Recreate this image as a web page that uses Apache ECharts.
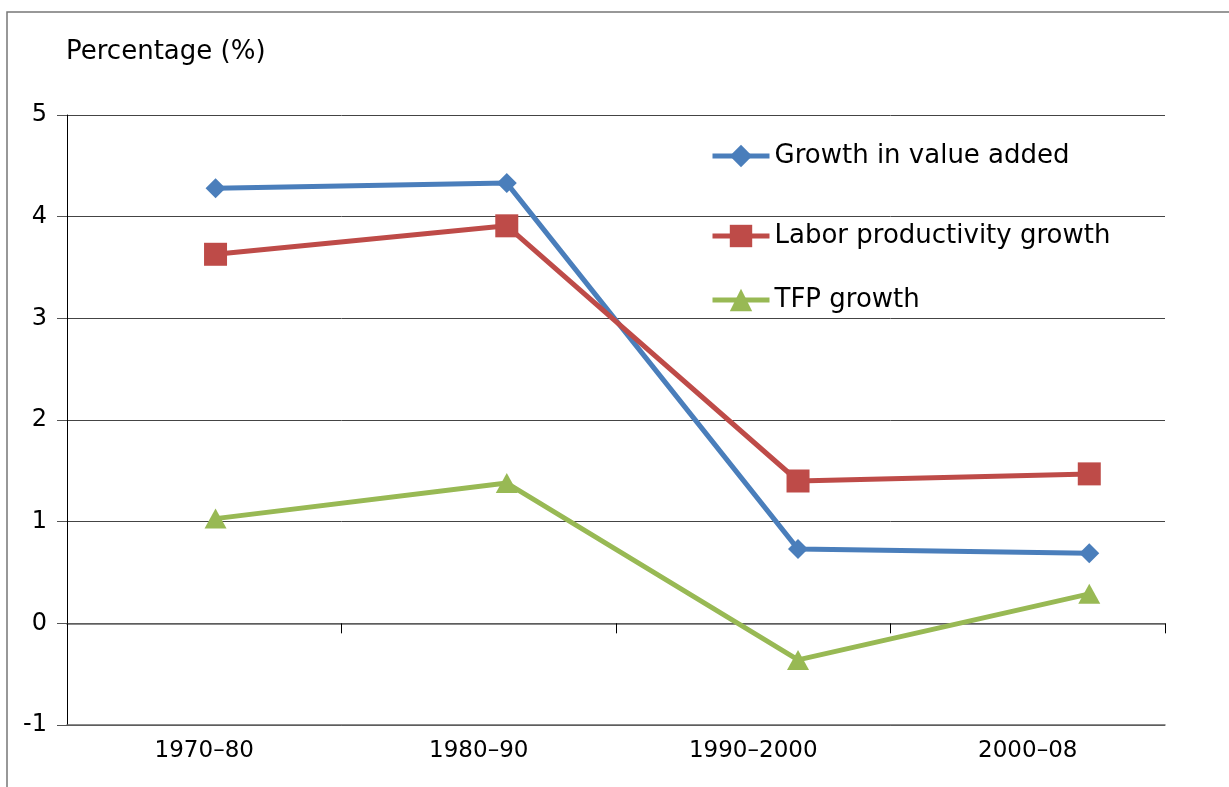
<!DOCTYPE html>
<html lang="en">
  <head>
    <meta charset="UTF-8" />
    <title>Growth</title>
    <script src="https://cdn.jsdelivr.net/npm/echarts@6.0.0/dist/echarts.min.js"></script>
    <style>
      html, body { margin: 0; padding: 0; background: #fff; }
    </style>
  </head>
  <body>
    <div id="main" style="width: 1229px; height: 787px"></div>
    <script type="text/javascript">
      // periods and values
      var periods = ["1970–80", "1980–90", "1990–2000", "2000–08"];
      var valueAdded = [4.28, 4.33, 0.73, 0.69];
      var laborProd = [3.63, 3.91, 1.4, 1.47];
      var tfpGrowth = [1.03, 1.38, -0.36, 0.29];
      var yTicks = [-1, 0, 1, 2, 3, 4, 5];

      var FONT = "DejaVu Sans";

      function pts(vals) {
        return periods.map(function (p, i) {
          return [i, vals[i]];
        });
      }

      var myChart = echarts.init(document.getElementById("main"));

      function legendAt(name, top) {
        return {
          data: [name],
          left: 705,
          top: top,
          orient: "vertical",
          itemWidth: 57,
          itemHeight: 28,
          itemGap: 0,
          lineStyle: { width: 5 },
          textStyle: { fontFamily: FONT, fontSize: 26, color: "#000" },
        };
      }

      var option = {
        animation: false,
        backgroundColor: "#fff",
        graphic: [
          {
            type: "rect",
            shape: { x: 7, y: 12, width: 1260, height: 820 },
            style: { fill: "none", stroke: "#777", lineWidth: 1.5 },
          },
          {
            type: "text",
            left: 66,
            top: 39,
            style: {
              text: "Percentage (%)",
              fontFamily: FONT,
              fontSize: 26,
              fill: "#000",
            },
          },
        ],
        legend: [
          legendAt("Growth in value added", 138),
          legendAt("Labor productivity growth", 218),
          legendAt("TFP growth", 282),
        ],
        grid: { left: 67, right: 64, top: 115, bottom: 62 },
        xAxis: [
          {
            type: "category",
            data: periods,
            position: "bottom",
            axisLine: { onZero: false, lineStyle: { color: "#666", width: 1.5 } },
            axisTick: { show: false },
            axisLabel: {
              margin: 15,
              fontFamily: FONT,
              fontSize: 23,
              color: "#000",
            },
          },
          {
            type: "category",
            data: periods,
            position: "bottom",
            axisLine: { onZero: true, lineStyle: { color: "#666", width: 1.5 } },
            axisTick: { show: true, length: 10, lineStyle: { color: "#000" } },
            axisLabel: { show: false },
          },
          {
            type: "value",
            min: -0.51,
            max: 3.26,
            show: false,
          },
        ],
        yAxis: {
          type: "value",
          min: yTicks[0],
          max: yTicks[yTicks.length - 1],
          interval: 1,
          axisLine: { show: true, onZero: false, lineStyle: { color: "#000", width: 1 } },
          axisTick: { show: true, length: 10, lineStyle: { color: "#555" } },
          axisLabel: {
            margin: 20,
            fontFamily: FONT,
            fontSize: 24,
            color: "#000",
          },
          splitLine: { lineStyle: { color: "#444", width: 1 } },
        },
        series: [
          {
            name: "Growth in value added",
            type: "line",
            xAxisIndex: 2,
            data: pts(valueAdded),
            symbol: "diamond",
            symbolSize: 20,
            color: "#4a7ebb",
            lineStyle: { width: 5 },
          },
          {
            name: "Labor productivity growth",
            type: "line",
            xAxisIndex: 2,
            data: pts(laborProd),
            symbol: "rect",
            symbolSize: 23,
            color: "#be4b48",
            lineStyle: { width: 5 },
          },
          {
            name: "TFP growth",
            type: "line",
            xAxisIndex: 2,
            data: pts(tfpGrowth),
            symbol: "triangle",
            symbolSize: [22, 20],
            color: "#98b954",
            lineStyle: { width: 5 },
          },
        ],
      };
      myChart.setOption(option);
    </script>
  </body>
</html>
